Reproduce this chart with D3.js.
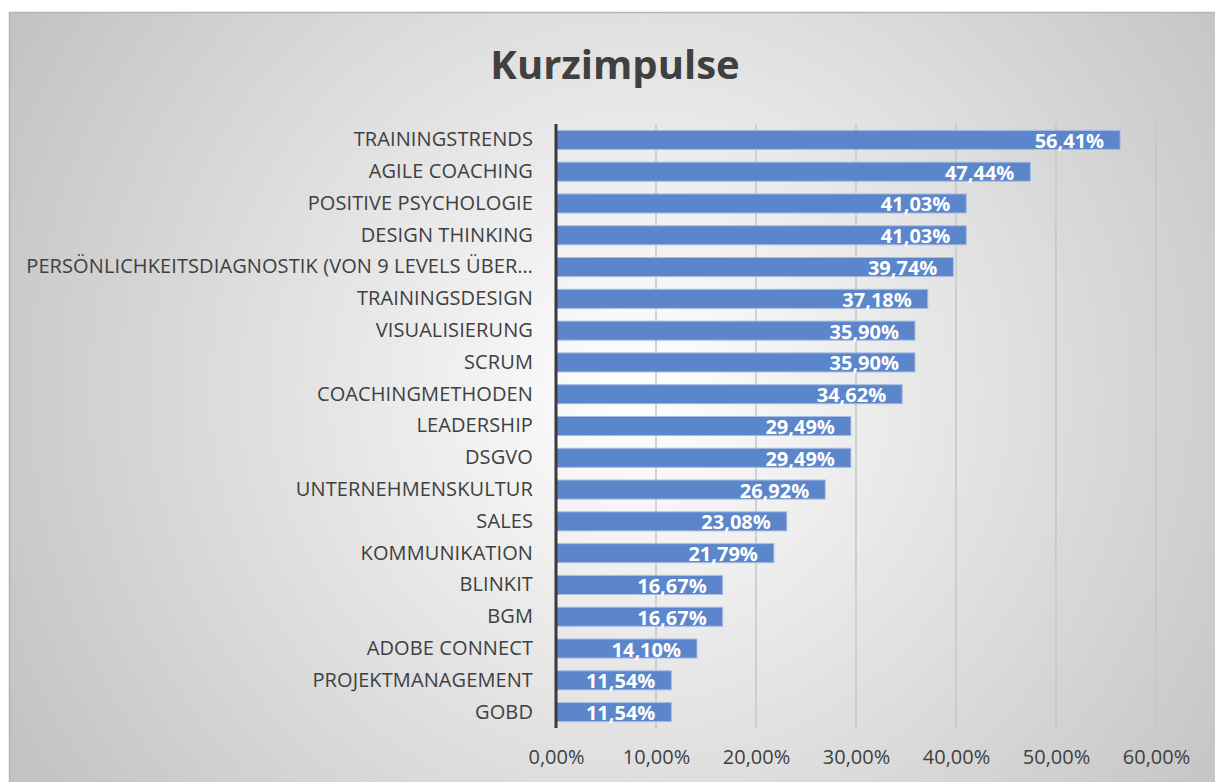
<!DOCTYPE html>
<html>
<head>
<meta charset="utf-8">
<script src="https://cdn.jsdelivr.net/npm/d3@7"></script>
<style>
  body { margin: 0; background: #fff; }
  svg { display: block; }
</style>
</head>
<body>
<svg id="chart"></svg>
<script>
// chart data
let categories = ['TRAININGSTRENDS', 'AGILE COACHING', 'POSITIVE PSYCHOLOGIE', 'DESIGN THINKING',
    'PERSÖNLICHKEITSDIAGNOSTIK (VON 9 LEVELS ÜBER…', 'TRAININGSDESIGN', 'VISUALISIERUNG', 'SCRUM',
    'COACHINGMETHODEN', 'LEADERSHIP', 'DSGVO', 'UNTERNEHMENSKULTUR', 'SALES', 'KOMMUNIKATION',
    'BLINKIT', 'BGM', 'ADOBE CONNECT', 'PROJEKTMANAGEMENT', 'GOBD']
let values = [56.41, 47.44, 41.03, 41.03, 39.74, 37.18, 35.90, 35.90, 34.62, 29.49, 29.49,
    26.92, 23.08, 21.79, 16.67, 16.67, 14.10, 11.54, 11.54]
let xTicks = [0, 10, 20, 30, 40, 50, 60]

let width = 1215
let height = 782
let plotLeft = 556
let plotRight = 1156
let plotTop = 124
let plotBottom = 728

let svg = d3.select('#chart').attr('width', width).attr('height', height)

let pct = (v) => d3.format('.2f')(v).replace('.', ',') + '%'

// background gradient
let defs = svg.append('defs')
let grad = defs.append('radialGradient')
    .attr('id', 'bg')
    .attr('gradientUnits', 'userSpaceOnUse')
    .attr('cx', 640).attr('cy', 390).attr('r', 720)
grad.append('stop').attr('offset', '0%').attr('stop-color', '#ffffff')
grad.append('stop').attr('offset', '100%').attr('stop-color', '#c3c3c3')

svg.append('rect')
    .attr('x', 9).attr('y', 12)
    .attr('width', width - 9).attr('height', height - 12)
    .attr('fill', 'url(#bg)')
svg.append('path')
    .attr('d', 'M9.5,782 V12.5 H1215')
    .attr('fill', 'none')
    .attr('stroke', '#b4b4b4')
    .attr('stroke-width', 1.5)

// title
svg.append('text')
    .attr('x', 615).attr('y', 79)
    .attr('text-anchor', 'middle')
    .attr('font-family', 'Open Sans')
    .attr('font-weight', 'bold')
    .attr('font-size', 40)
    .attr('fill', '#404040')
    .text('Kurzimpulse')

let xScale = d3.scaleLinear().domain([0, 60]).range([plotLeft, plotRight])
let yScale = d3.scaleBand().domain(categories).range([plotTop, plotBottom]).paddingInner(0.4).paddingOuter(0.2)

// gridlines
svg.append('g')
    .selectAll('line')
    .data(xTicks.slice(1))
    .enter()
    .append('line')
    .attr('x1', (d) => xScale(d)).attr('x2', (d) => xScale(d))
    .attr('y1', plotTop).attr('y2', plotBottom)
    .attr('stroke', '#c6c6c6')
    .attr('stroke-width', 1.5)

// x axis labels
let xAxis = d3.axisBottom(xScale).tickValues(xTicks).tickFormat((d) => pct(d)).tickSize(0).tickPadding(22)
let gx = svg.append('g')
    .attr('transform', 'translate(0,' + plotBottom + ')')
    .call(xAxis)
gx.select('.domain').remove()
gx.selectAll('text')
    .attr('font-family', 'Open Sans')
    .attr('font-size', 20)
    .attr('fill', '#404040')

// y axis labels
let yAxis = d3.axisLeft(yScale).tickSize(0).tickPadding(23)
let gy = svg.append('g')
    .attr('transform', 'translate(' + plotLeft + ',0)')
    .call(yAxis)
gy.select('.domain').remove()
gy.selectAll('text')
    .attr('font-family', 'Open Sans')
    .attr('font-size', 20)
    .attr('letter-spacing', 0.1)
    .attr('fill', '#404040')

// bars
let rows = categories.map((c, i) => ({ cat: c, val: values[i] }))
svg.append('g')
    .selectAll('rect')
    .data(rows)
    .enter()
    .append('rect')
    .attr('x', xScale(0))
    .attr('y', (d) => yScale(d.cat))
    .attr('width', (d) => xScale(d.val) - xScale(0))
    .attr('height', yScale.bandwidth())
    .attr('fill', '#5b86cb')
    .attr('stroke', '#a8bde3')
    .attr('stroke-width', 1)

// value labels
svg.append('g')
    .selectAll('text')
    .data(rows)
    .enter()
    .append('text')
    .attr('x', (d) => xScale(d.val) - 16)
    .attr('y', (d) => yScale(d.cat) + yScale.bandwidth() / 2 + 8)
    .attr('text-anchor', 'end')
    .attr('font-family', 'Open Sans')
    .attr('font-weight', 'bold')
    .attr('font-size', 20)
    .attr('fill', '#ffffff')
    .text((d) => pct(d.val))

// vertical axis line
svg.append('line')
    .attr('x1', plotLeft).attr('x2', plotLeft)
    .attr('y1', plotTop).attr('y2', plotBottom)
    .attr('stroke', '#3a3a3a')
    .attr('stroke-width', 3)
</script>
</body>
</html>
